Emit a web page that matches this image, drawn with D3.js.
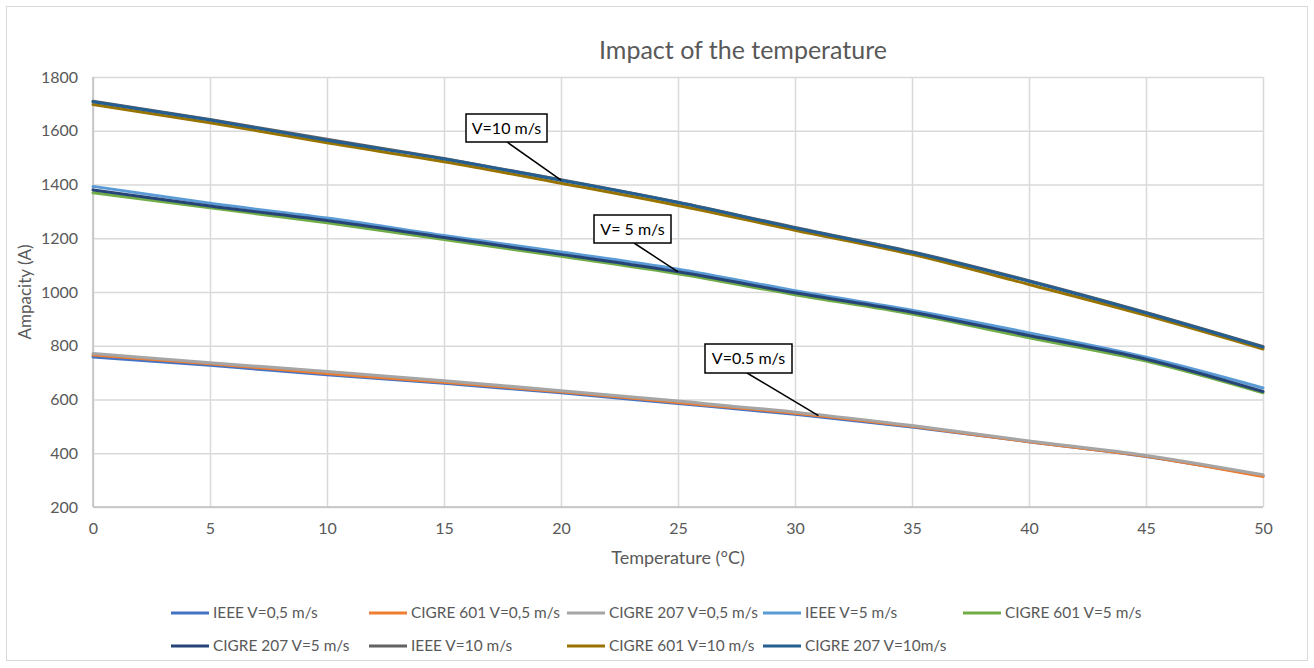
<!DOCTYPE html>
<html>
<head>
<meta charset="utf-8">
<script src="https://cdn.jsdelivr.net/npm/d3@7"></script>
<style>
  html, body { margin: 0; padding: 0; background: #fff; }
  svg { display: block; }
  text { font-family: Lato, "Open Sans", sans-serif; }
</style>
</head>
<body>
<svg id="chart" width="1314" height="668"></svg>
<script>
// ---- data ----
const temperatures = [0, 5, 10, 15, 20, 25, 30, 35, 40, 45, 50];
const xTicks = [0, 5, 10, 15, 20, 25, 30, 35, 40, 45, 50];
const yTicks = [200, 400, 600, 800, 1000, 1200, 1400, 1600, 1800];

const ieee05   = [758, 727, 692, 660, 625, 585, 545, 498, 443, 388, 316];
const cigre601_05 = [766, 733, 697, 664, 629, 589, 549, 500, 443, 389, 313];
const cigre207_05 = [771, 737, 704, 670, 633, 594, 553, 503, 446, 392, 320];
const ieee5    = [1393, 1330, 1275, 1210, 1149, 1085, 1005, 932, 848, 757, 643];
const cigre601_5 = [1369, 1313, 1258, 1195, 1133, 1068, 990, 918, 830, 743, 625];
const cigre207_5 = [1380, 1320, 1266, 1203, 1140, 1075, 997, 925, 838, 750, 630];
const ieee10   = [1710, 1642, 1568, 1497, 1418, 1334, 1240, 1150, 1042, 924, 797];
const cigre601_10 = [1698, 1630, 1555, 1485, 1405, 1322, 1230, 1140, 1028, 913, 788];
const cigre207_10 = [1708, 1640, 1565, 1495, 1416, 1333, 1238, 1148, 1040, 922, 795];

const seriesNames = ["IEEE V=0,5 m/s", "CIGRE 601 V=0,5 m/s", "CIGRE 207 V=0,5 m/s",
  "IEEE V=5 m/s", "CIGRE 601 V=5 m/s", "CIGRE 207 V=5 m/s",
  "IEEE V=10 m/s", "CIGRE 601 V=10 m/s", "CIGRE 207 V=10m/s"];
const seriesValues = [ieee05, cigre601_05, cigre207_05, ieee5, cigre601_5, cigre207_5, ieee10, cigre601_10, cigre207_10];
const seriesColors = ["#4472C4", "#ED7D31", "#A5A5A5", "#5B9BD5", "#70AD47", "#264478", "#636363", "#997300", "#255E91"];

const annotationTexts = ["V=10 m/s", "V= 5 m/s", "V=0.5 m/s"];
const annotationX = [20, 25, 31];
const annotationY = [1416, 1075, 540];

const title = "Impact of the temperature";
const xTitle = "Temperature (°C)";
const yTitle = "Ampacity (A)";

// ---- layout ----
const svg = d3.select("#chart");
const plot = { left: 93, right: 1263, top: 77, bottom: 507 };
const x = d3.scaleLinear().domain([0, 50]).range([plot.left, plot.right]);
const y = d3.scaleLinear().domain([200, 1800]).range([plot.bottom, plot.top]);
const textColor = "#595959";

svg.append("rect").attr("x", 6.5).attr("y", 6.5).attr("width", 1301).attr("height", 654)
  .attr("fill", "#fff").attr("stroke", "#d9d9d9").attr("stroke-width", 1);

// gridlines
const gx = svg.append("g").attr("transform", `translate(0,${plot.bottom})`)
  .call(d3.axisBottom(x).tickValues(xTicks).tickSize(-(plot.bottom - plot.top)).tickFormat(""));
gx.select(".domain").remove();
gx.selectAll("line").attr("stroke", "#d9d9d9").attr("stroke-width", 1.5);

const gy = svg.append("g").attr("transform", `translate(${plot.left},0)`)
  .call(d3.axisLeft(y).tickValues(yTicks).tickSize(-(plot.right - plot.left)).tickFormat(""));
gy.select(".domain").remove();
gy.selectAll("line").attr("stroke", "#d9d9d9").attr("stroke-width", 1.5);

// axis lines
svg.append("line").attr("x1", plot.left).attr("x2", plot.left).attr("y1", plot.top).attr("y2", plot.bottom)
  .attr("stroke", "#bfbfbf").attr("stroke-width", 1.5);
svg.append("line").attr("x1", plot.left).attr("x2", plot.right).attr("y1", plot.bottom).attr("y2", plot.bottom)
  .attr("stroke", "#bfbfbf").attr("stroke-width", 1.5);

// tick labels
const xl = svg.append("g").attr("transform", `translate(0,${plot.bottom})`)
  .call(d3.axisBottom(x).tickValues(xTicks).tickSize(0).tickPadding(16).tickFormat(d3.format("d")));
xl.select(".domain").remove();
xl.selectAll("text").attr("font-size", 16).attr("fill", textColor).attr("font-family", "Lato");

const yl = svg.append("g").attr("transform", `translate(${plot.left},0)`)
  .call(d3.axisLeft(y).tickValues(yTicks).tickSize(0).tickPadding(15).tickFormat(d3.format("d")));
yl.select(".domain").remove();
yl.selectAll("text").attr("font-size", 16).attr("fill", textColor).attr("font-family", "Lato");

// series
const line = d3.line().x((d, i) => x(temperatures[i])).y(d => y(d)).curve(d3.curveMonotoneX);
seriesValues.forEach((vals, i) => {
  svg.append("path").datum(vals).attr("d", line)
    .attr("fill", "none").attr("stroke", seriesColors[i]).attr("stroke-width", 3)
    .attr("stroke-linejoin", "round").attr("stroke-linecap", "round");
});

// annotations
const boxes = [
  { x: 466, y: 114, w: 81, h: 28, lx: 507 },
  { x: 594, y: 215, w: 77, h: 28, lx: 634 },
  { x: 705, y: 344, w: 87, h: 29, lx: 747 }
];
annotationTexts.forEach((t, i) => {
  const b = boxes[i];
  svg.append("line").attr("x1", b.lx).attr("y1", b.y + b.h).attr("x2", x(annotationX[i])).attr("y2", y(annotationY[i]))
    .attr("stroke", "#000").attr("stroke-width", 1.5);
  svg.append("rect").attr("x", b.x).attr("y", b.y).attr("width", b.w).attr("height", b.h)
    .attr("fill", "#fff").attr("stroke", "#000").attr("stroke-width", 1.5);
  svg.append("text").attr("x", b.x + b.w / 2).attr("y", b.y + b.h / 2).attr("dy", "0.35em")
    .attr("text-anchor", "middle").attr("font-size", 16).attr("fill", "#000").text(t);
});

// titles
svg.append("text").attr("x", 743).attr("y", 50).attr("dy", "0.35em").attr("text-anchor", "middle")
  .attr("font-size", 25).attr("fill", textColor).text(title);
svg.append("text").attr("x", (plot.left + plot.right) / 2).attr("y", 558).attr("dy", "0.35em").attr("text-anchor", "middle")
  .attr("font-size", 18).attr("fill", textColor).text(xTitle);
svg.append("text").attr("transform", `translate(25,${(plot.top + plot.bottom) / 2}) rotate(-90)`)
  .attr("dy", "0.35em").attr("text-anchor", "middle")
  .attr("font-size", 17).attr("fill", textColor).text(yTitle);

// legend
const legendCols = [171, 369, 567, 763, 963];
const legendRows = [613, 646];
seriesNames.forEach((name, i) => {
  const row = Math.floor(i / 5), col = i % 5;
  const lx = legendCols[col], ly = legendRows[row];
  svg.append("line").attr("x1", lx).attr("x2", lx + 38).attr("y1", ly).attr("y2", ly)
    .attr("stroke", seriesColors[i]).attr("stroke-width", 3);
  svg.append("text").attr("x", lx + 42).attr("y", ly).attr("dy", "0.35em")
    .attr("font-size", 15.4).attr("fill", textColor).text(name);
});
</script>
</body>
</html>
